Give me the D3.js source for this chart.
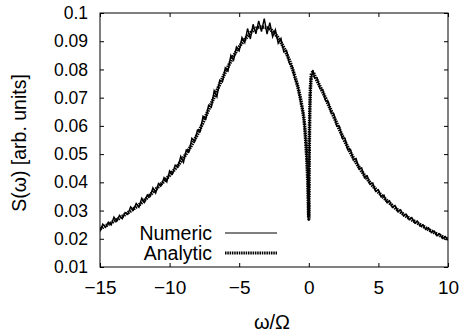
<!DOCTYPE html>
<html><head><meta charset="utf-8">
<script src="https://cdn.jsdelivr.net/npm/d3@7"></script>
<style>body{margin:0;background:#fff}svg{display:block}text{font-family:"Liberation Sans",Arial,Helvetica,sans-serif;fill:#000}</style>
</head><body><svg id="c" width="459" height="335"></svg>
<script>
// Analytic (smooth) curve
const analyticW = [-15,-14,-13,-12,-11,-10,-9,-8,-7,-6,-5,-4.5,-4,-3.5,-3,-2.5,-2,-1.5,-1,-0.7,-0.5,-0.3,-0.2,-0.12,-0.06,-0.03,0,0.03,0.06,0.1,0.15,0.2,0.3,0.4,0.6,0.8,1,1.5,2,2.5,3,4,5,6,7,8,9,10];
const analyticS = [0.0235,0.0262,0.0292,0.0328,0.0375,0.0425,0.0487,0.0570,0.0680,0.0790,0.0880,0.0912,0.0938,0.0950,0.0948,0.0930,0.0895,0.0845,0.0775,0.0720,0.0670,0.0600,0.0530,0.0460,0.0380,0.0320,0.0270,0.0500,0.0620,0.0710,0.0760,0.0785,0.0790,0.0780,0.0760,0.0740,0.0720,0.0665,0.0610,0.0555,0.0505,0.0425,0.0365,0.0318,0.0280,0.0250,0.0222,0.0198];
// Numeric (noisy) curve
const numericW = [-15,-14.8,-14.6,-14.4,-14.2,-14,-13.8,-13.6,-13.4,-13.2,-13,-12.8,-12.6,-12.4,-12.2,-12,-11.8,-11.6,-11.4,-11.2,-11,-10.8,-10.6,-10.4,-10.2,-10,-9.8,-9.6,-9.4,-9.2,-9,-8.8,-8.6,-8.4,-8.2,-8,-7.8,-7.6,-7.4,-7.2,-7,-6.8,-6.6,-6.4,-6.2,-6,-5.8,-5.6,-5.4,-5.2,-5,-4.8,-4.6,-4.4,-4.2,-4,-3.8,-3.6,-3.4,-3.2,-3,-2.8,-2.6,-2.4,-2.2,-2,-1.8,-1.6,-1.4,-1.2,-1,-0.8,-0.6,-0.4,-0.3,-0.2,-0.12,-0.06,-0.03,0,0.03,0.06,0.1,0.15,0.2,0.3,0.4,0.6,0.8,1,1.2,1.4,1.6,1.8,2,2.2,2.4,2.6,2.8,3,3.2,3.4,3.6,3.8,4,4.2,4.4,4.6,4.8,5,5.2,5.4,5.6,5.8,6,6.2,6.4,6.6,6.8,7,7.2,7.4,7.6,7.8,8,8.2,8.4,8.6,8.8,9,9.2,9.4,9.6,9.8,10];
const numericS = [0.0226,0.0252,0.0241,0.0259,0.0249,0.0277,0.0262,0.0283,0.0271,0.0293,0.0287,0.0313,0.0302,0.0325,0.0312,0.0344,0.0329,0.0356,0.0350,0.0381,0.0362,0.0396,0.0389,0.0417,0.0401,0.0441,0.0429,0.0461,0.0455,0.0492,0.0471,0.0515,0.0509,0.0556,0.0545,0.0585,0.0580,0.0634,0.0624,0.0673,0.0666,0.0725,0.0703,0.0762,0.0756,0.0806,0.0795,0.0850,0.0833,0.0880,0.0866,0.0913,0.0895,0.0945,0.0908,0.0960,0.0926,0.0972,0.0934,0.0980,0.0925,0.0966,0.0916,0.0941,0.0893,0.0910,0.0862,0.0868,0.0822,0.0812,0.0768,0.0745,0.0690,0.0646,0.0596,0.0534,0.0456,0.0383,0.0318,0.0265,0.0495,0.0625,0.0704,0.0768,0.0778,0.0798,0.0772,0.0770,0.0733,0.0729,0.0690,0.0686,0.0646,0.0643,0.0600,0.0598,0.0556,0.0556,0.0515,0.0516,0.0479,0.0484,0.0448,0.0451,0.0416,0.0423,0.0393,0.0398,0.0368,0.0374,0.0348,0.0355,0.0329,0.0335,0.0311,0.0318,0.0296,0.0303,0.0281,0.0287,0.0268,0.0275,0.0256,0.0263,0.0244,0.0250,0.0233,0.0239,0.0222,0.0228,0.0211,0.0218,0.0201,0.0208,0.0195];
const xTicks = [-15,-10,-5,0,5,10];
const yTicks = [0.01,0.02,0.03,0.04,0.05,0.06,0.07,0.08,0.09,0.1];
const seriesNames = ["Numeric","Analytic"];

const svg = d3.select("#c");
const L=100,R=448,T=13,B=267;
const x = d3.scaleLinear().domain([-15,10]).range([L,R]);
const y = d3.scaleLinear().domain([0.01,0.1]).range([B,T]);
const fmtY = d => d===0.1 ? "0.1" : d3.format(".2f")(d);

function styleAxis(fs){ return g => { g.select(".domain").remove(); g.selectAll("line").attr("stroke","#000"); g.selectAll("text").attr("font-size",fs).attr("font-family",null).attr("fill","#000"); }; }
svg.append("g").attr("transform",`translate(${L},0)`).call(d3.axisLeft(y).tickValues(yTicks).tickFormat(fmtY).tickSize(-4).tickPadding(12)).call(styleAxis("17.5px"));
svg.append("g").attr("transform",`translate(${R},0)`).call(d3.axisRight(y).tickValues(yTicks).tickFormat("").tickSize(-4)).call(styleAxis("17px"));
svg.append("g").attr("transform",`translate(0,${B})`).call(d3.axisBottom(x).tickValues(xTicks).tickFormat(d3.format("d")).tickSize(-4).tickPadding(14)).call(styleAxis("19px"));
svg.append("g").attr("transform",`translate(0,${T})`).call(d3.axisTop(x).tickValues(xTicks).tickFormat("").tickSize(-4)).call(styleAxis("17px"));
svg.append("rect").attr("x",L).attr("y",T).attr("width",R-L).attr("height",B-T).attr("fill","none").attr("stroke","#000").attr("stroke-width",1);

svg.append("clipPath").attr("id","cp").append("rect").attr("x",L).attr("y",T).attr("width",R-L).attr("height",B-T);
const aData = analyticW.map((w,i)=>[w,analyticS[i]]);
const nData = numericW.map((w,i)=>[w,numericS[i]]);
svg.append("path").datum(aData).attr("d",d3.line().x(d=>x(d[0])).y(d=>y(d[1])).curve(d3.curveMonotoneX)).attr("fill","none").attr("stroke","#000").attr("stroke-width",3.5).attr("stroke-dasharray","1.5,0.8").attr("clip-path","url(#cp)");
svg.append("path").datum(nData).attr("d",d3.line().x(d=>x(d[0])).y(d=>y(d[1]))).attr("fill","none").attr("stroke","#000").attr("stroke-width",1.4).attr("clip-path","url(#cp)");

// legend
const lg = svg.append("g");
[[seriesNames[0],233,null,1.2],[seriesNames[1],253,"1.5,0.8",3]].forEach(([name,yy,dash,w])=>{
  lg.append("text").attr("x",212).attr("y",yy).attr("dy","0.36em").attr("text-anchor","end").attr("font-size","19.5px").text(name);
  lg.append("line").attr("x1",225).attr("x2",277).attr("y1",yy).attr("y2",yy).attr("stroke","#000").attr("stroke-width",w).attr("stroke-dasharray",dash);
});

svg.append("text").attr("x",272).attr("y",329).attr("text-anchor","middle").attr("font-size","20px").text("ω/Ω");
svg.append("text").attr("transform","translate(26,143) rotate(-90)").attr("text-anchor","middle").attr("font-size","19.5px").text("S(ω) [arb. units]");
</script></body></html>
